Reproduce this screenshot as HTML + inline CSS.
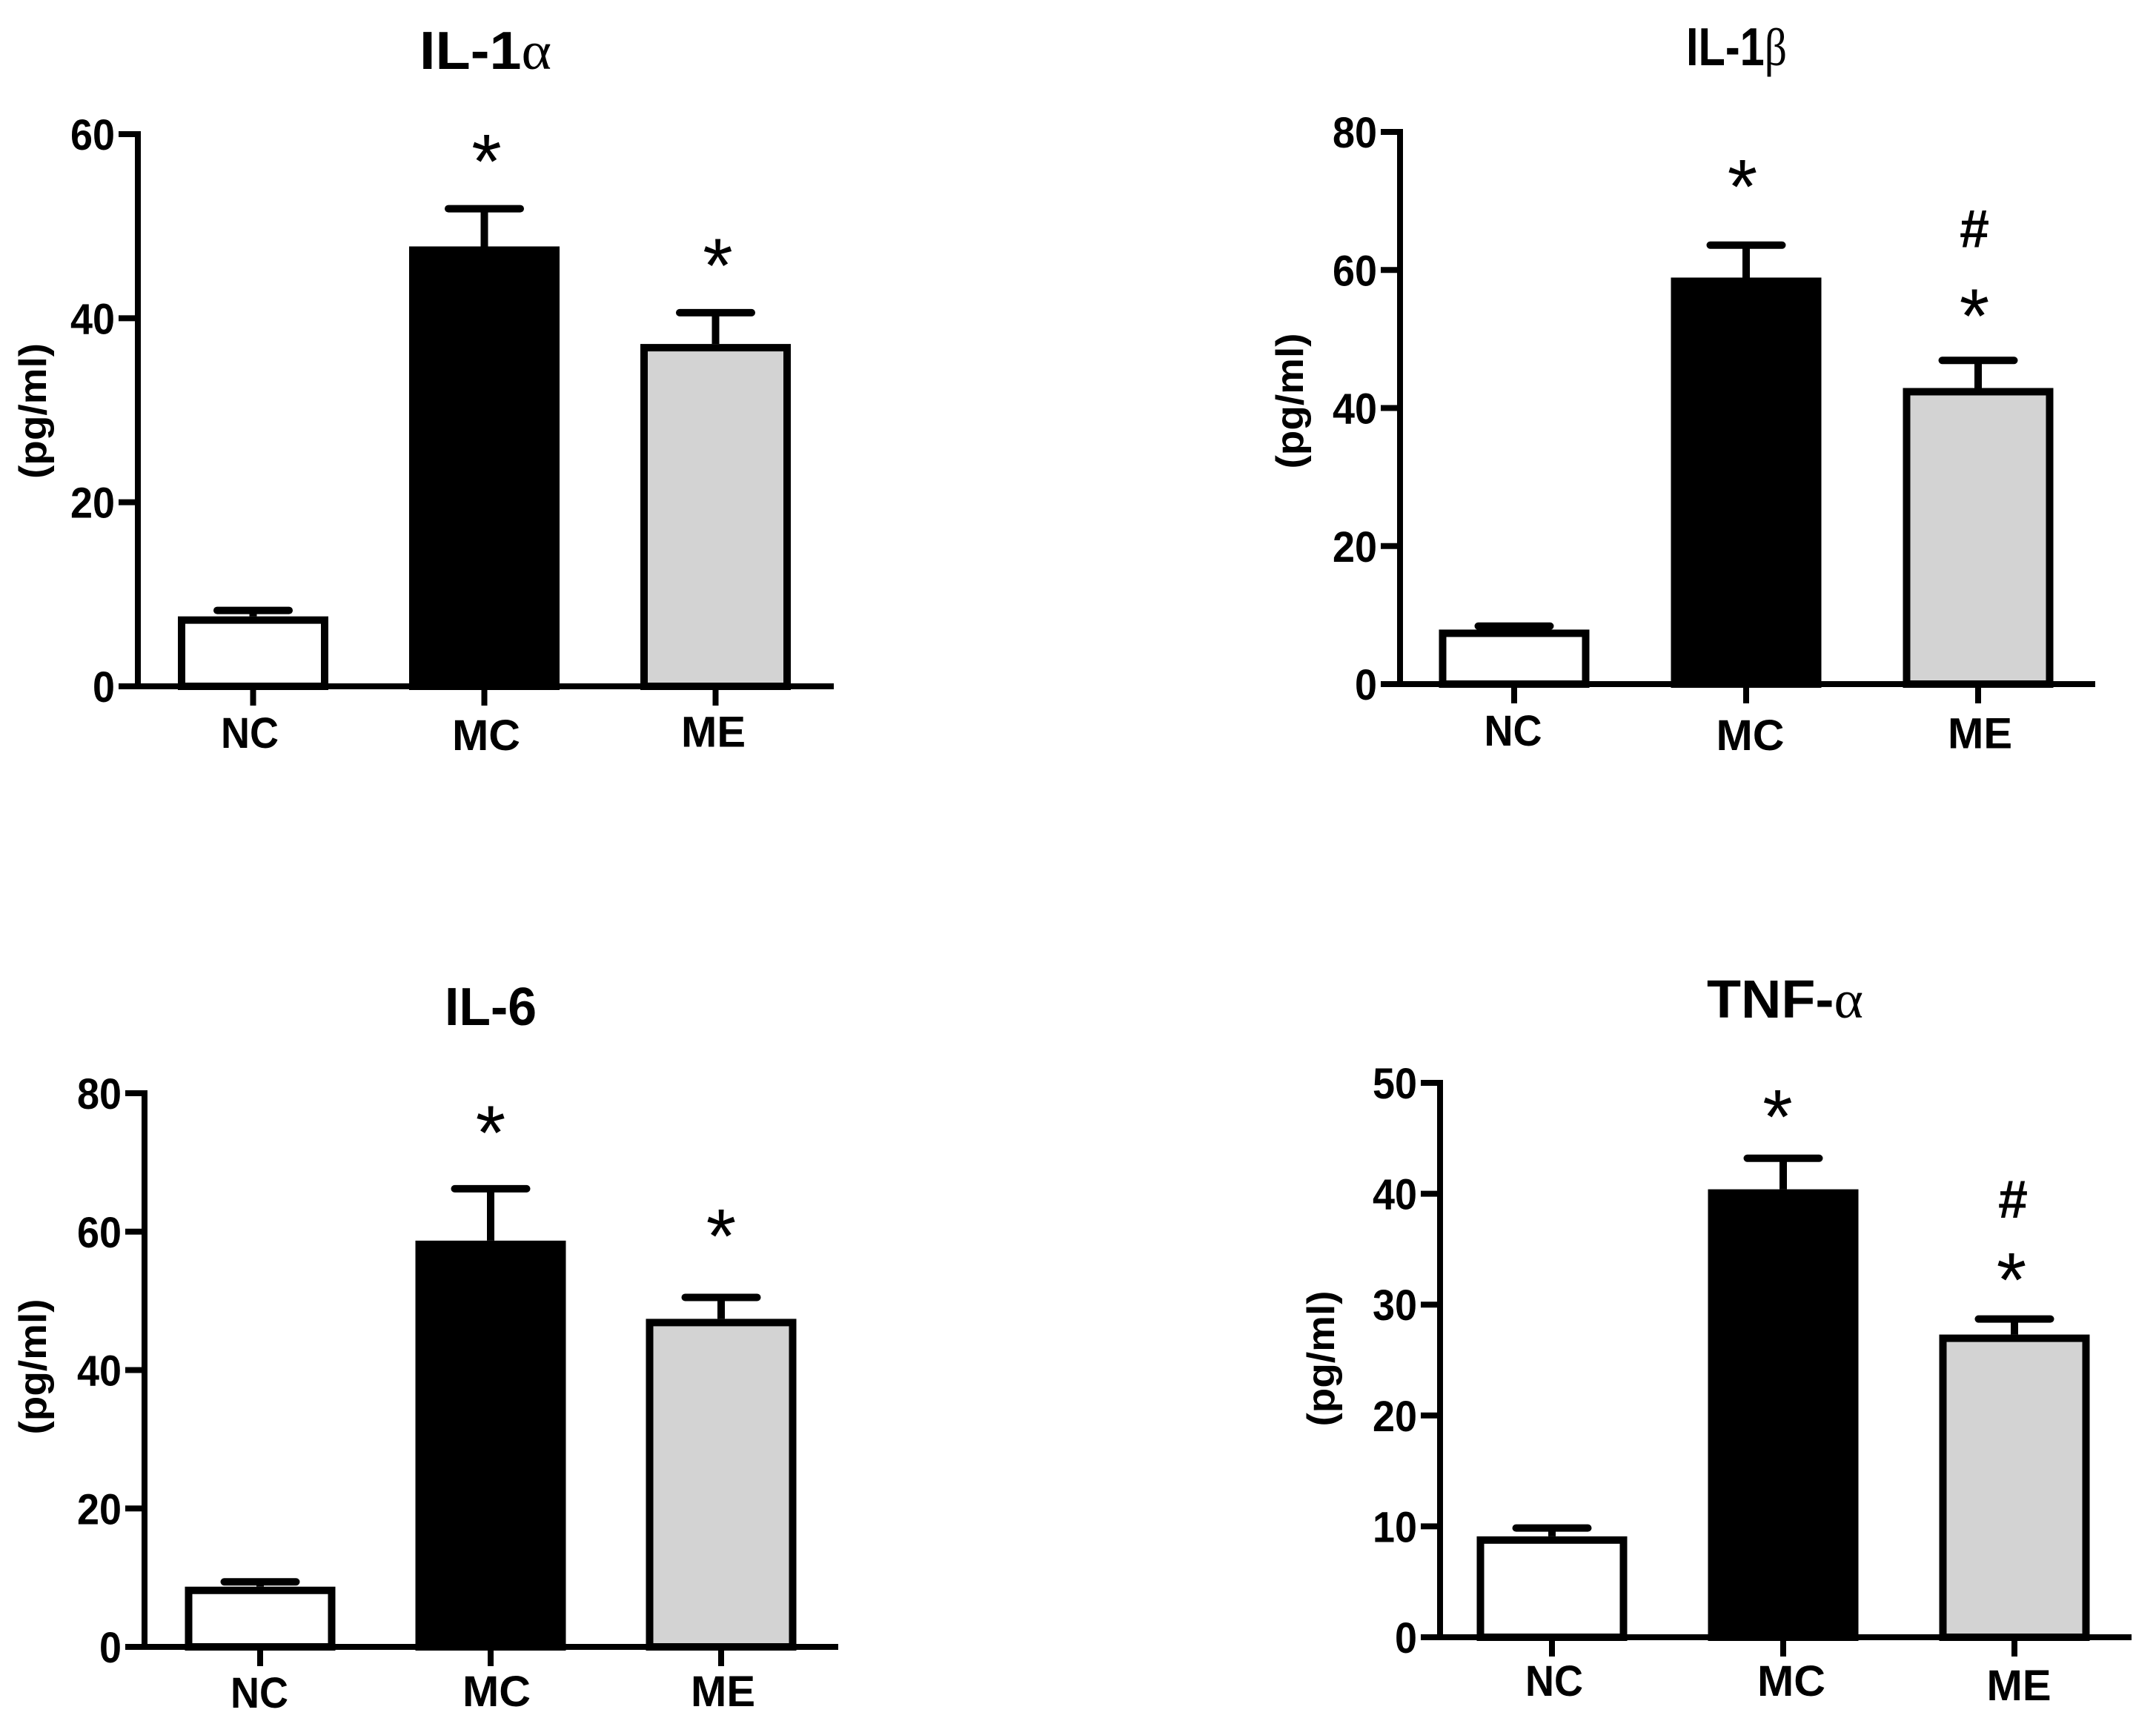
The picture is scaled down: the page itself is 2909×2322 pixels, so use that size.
<!DOCTYPE html>
<html>
<head>
<meta charset="utf-8">
<title>Cytokine levels</title>
<style>
html,body{margin:0;padding:0;background:#fff;width:2909px;height:2322px;overflow:hidden}
svg{display:block}
text{font-family:"Liberation Sans",sans-serif;font-weight:bold;fill:#000}
</style>
</head>
<body>
<svg id="figure" xmlns="http://www.w3.org/2000/svg" width="2909" height="2322" viewBox="0 0 2909 2322"></svg>
<script>
// Shared categories
const categories = ["NC", "MC", "ME"];
const barFills = ["#ffffff", "#000000", "#d3d3d3"];

// IL-1 alpha
const il1aMeans = [7.6, 47.8, 37.2];
const il1aUpper = [8.25, 51.9, 40.6];
const il1aTicks = [0, 20, 40, 60];
const il1aMarks = [[], ["*"], ["*"]];

// IL-1 beta
const il1bMeans = [7.9, 58.9, 42.9];
const il1bUpper = [8.4, 63.6, 46.9];
const il1bTicks = [0, 20, 40, 60, 80];
const il1bMarks = [[], ["*"], ["*", "#"]];

// IL-6
const il6Means = [8.7, 58.7, 47.4];
const il6Upper = [9.4, 66.2, 50.5];
const il6Ticks = [0, 20, 40, 60, 80];
const il6Marks = [[], ["*"], ["*"]];

// TNF-alpha
const tnfMeans = [9.1, 40.4, 27.3];
const tnfUpper = [9.85, 43.2, 28.7];
const tnfTicks = [0, 10, 20, 30, 40, 50];
const tnfMarks = [[], ["*"], ["*", "#"]];

const panels = [
  {id:"il-1-alpha", title:"IL-1", greek:"α", means:il1aMeans, upper:il1aUpper, ticks:il1aTicks, marks:il1aMarks,
   axisX:186, top:181, zero:926, left:164, right:1125, first:341.5, step:312,
   titleX:655, titleY:93, titleW:178, labelX:50, labelY:554.5,
   catBase:[1009,1012,1007.5], catDx:[-4.5,2.5,-3], starUp:[0,78,78], hashUp:[0,0,0], starDx:[0,3,3], hashDx:[0,0,0]},
  {id:"il-1-beta", title:"IL-1", greek:"β", means:il1bMeans, upper:il1bUpper, ticks:il1bTicks, marks:il1bMarks,
   axisX:1889, top:178, zero:923, left:1866, right:2827, first:2043, step:313,
   titleX:2343, titleY:88, titleW:136, labelX:1746, labelY:541,
   catBase:[1006,1012,1009.5], catDx:[-1.5,5.5,2.5], starUp:[0,93,74], hashUp:[0,0,178], starDx:[0,-5,-5], hashDx:[0,0,-5]},
  {id:"il-6", title:"IL-6", greek:"", means:il6Means, upper:il6Upper, ticks:il6Ticks, marks:il6Marks,
   axisX:195, top:1475, zero:2222, left:171, right:1131, first:351, step:311,
   titleX:662, titleY:1383, titleW:124, labelX:50, labelY:1844,
   catBase:[2304,2302,2302], catDx:[-1,8,2.5], starUp:[0,90,97], hashUp:[0,0,0], starDx:[0,0,0], hashDx:[0,0,0]},
  {id:"tnf-alpha", title:"TNF-", greek:"α", means:tnfMeans, upper:tnfUpper, ticks:tnfTicks, marks:tnfMarks,
   axisX:1943, top:1461, zero:2209, left:1918, right:2876, first:2094, step:312,
   titleX:2408.5, titleY:1373, titleW:211, labelX:1788, labelY:1833,
   catBase:[2288,2288,2294], catDx:[3,11,6], starUp:[0,70,67], hashUp:[0,0,162], starDx:[0,-7.5,-4], hashDx:[0,0,-2]}
];

const SVG_NS = "http://www.w3.org/2000/svg";
const AXIS_LINE = 8;
const BAR_LINE = 10;
const BAR_W = 203;
const CAP_W = 107;
const TICK = 26;
const catWidths = {NC:78, MC:92, ME:87};

function make(tag, parent, attrs, content) {
  const el = document.createElementNS(SVG_NS, tag);
  for (const k in attrs) el.setAttribute(k, attrs[k]);
  if (content !== undefined) el.textContent = content;
  parent.appendChild(el);
  return el;
}

const figure = document.getElementById("figure");

panels.forEach(function (p) {
  const maxTick = p.ticks[p.ticks.length - 1];
  const yScale = function (v) { return p.zero + (p.top - p.zero) * v / maxTick; };
  const xScale = function (i) { return p.first + p.step * i; };

  const g = make("g", figure, {});
  
  

  // title
  const title = make("text", g, {x:p.titleX, y:p.titleY, "text-anchor":"middle", "font-size":72, textLength:p.titleW, lengthAdjust:"spacingAndGlyphs"}, p.title);
  
  
  if (p.greek) {
    const greek = make("tspan", title, {style:'font-family:"Liberation Serif",serif;font-weight:normal'}, p.greek);
    
    
  }

  // y label
  const yLabel = make("text", g, {x:0, y:0, transform:"translate(" + (p.labelX + 12) + " " + p.labelY + ") rotate(-90)", "text-anchor":"middle", "font-size":52, textLength:183, lengthAdjust:"spacingAndGlyphs"}, "(pg/ml)");
  
  

  // bars, error bars, x ticks and labels
  p.means.forEach(function (mean, i) {
    const cx = xScale(i);
    const yMean = yScale(mean);
    const yUp = yScale(p.upper[i]);

    const stem = make("line", g, {x1:cx, x2:cx, y1:yMean, y2:yUp, stroke:"#000", "stroke-width":BAR_LINE});
    
    

    const cap = make("line", g, {x1:cx - CAP_W / 2 + BAR_LINE / 2, x2:cx + CAP_W / 2 - BAR_LINE / 2, y1:yUp, y2:yUp, stroke:"#000", "stroke-width":BAR_LINE, "stroke-linecap":"round"});
    
    

    const bar = make("rect", g, {x:cx - BAR_W / 2 + BAR_LINE / 2, y:yMean + BAR_LINE / 2, width:BAR_W - BAR_LINE, height:p.zero - yMean - BAR_LINE / 2, fill:barFills[i], stroke:"#000", "stroke-width":BAR_LINE});
    
    

    const xTick = make("line", g, {x1:cx, x2:cx, y1:p.zero, y2:p.zero + TICK, stroke:"#000", "stroke-width":AXIS_LINE});
    
    

    const cat = make("text", g, {x:cx + p.catDx[i], y:p.catBase[i], "text-anchor":"middle", "font-size":58, textLength:catWidths[categories[i]], lengthAdjust:"spacingAndGlyphs"}, categories[i]);
    
    

    p.marks[i].forEach(function (m) {
      const isStar = m === "*";
      const centerY = yUp - (isStar ? p.starUp[i] : p.hashUp[i]);
      const size = isStar ? 104 : 72;
      const base = isStar ? centerY + size * 0.48 : centerY + size * 0.35;
      const dx = isStar ? p.starDx[i] : p.hashDx[i];
      const mark = make("text", g, {x:cx + dx, y:base, "text-anchor":"middle", "font-size":size, style:isStar ? "font-weight:normal" : ""}, m);
      
      
    });
  });

  // axes
  const yAxis = make("line", g, {x1:p.axisX, x2:p.axisX, y1:p.top - AXIS_LINE / 2, y2:p.zero + AXIS_LINE / 2, stroke:"#000", "stroke-width":AXIS_LINE});
  
  

  const xAxis = make("line", g, {x1:p.left, x2:p.right, y1:p.zero, y2:p.zero, stroke:"#000", "stroke-width":AXIS_LINE});
  
  

  p.ticks.forEach(function (t) {
    const y = yScale(t);
    const yTick = make("line", g, {x1:p.axisX - TICK, x2:p.axisX, y1:y, y2:y, stroke:"#000", "stroke-width":AXIS_LINE});
    
    

    const label = String(t);
    const tickLabel = make("text", g, {x:p.axisX - 31, y:y + 21, "text-anchor":"end", "font-size":58, textLength:30 * label.length, lengthAdjust:"spacingAndGlyphs"}, label);
    
    
  });
});
</script>
</body>
</html>
